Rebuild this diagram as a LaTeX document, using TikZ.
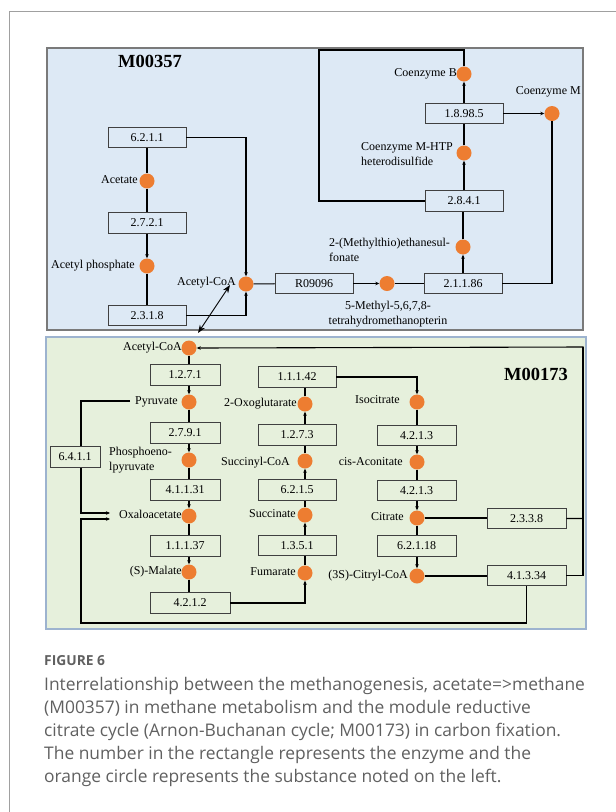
\documentclass[tikz,border=0pt]{standalone}
\usepackage{fontspec}
\setmainfont{Liberation Serif}
\newfontfamily\capfont{Open Sans}
\usetikzlibrary{arrows.meta}
\definecolor{topfill}{HTML}{DDE9F5}
\definecolor{botfill}{HTML}{E6F0DC}
\definecolor{orng}{HTML}{ED7D31}
\definecolor{capgray}{HTML}{606060}
\definecolor{topedge}{HTML}{7A7A7A}
\definecolor{botedge}{HTML}{9DB3CF}
\definecolor{frame}{HTML}{A0A0A0}
\begin{document}
\begin{tikzpicture}[x=1pt,y=-1pt,
  enz/.style={draw=black!75, line width=0.8pt, minimum width=78pt, minimum height=20.5pt, inner sep=0pt, font=\fontsize{12}{14}\selectfont},
  sub/.style={circle, fill=orng, minimum size=15pt, inner sep=0pt},
  lab/.style={font=\fontsize{12}{14.5}\selectfont, inner sep=0pt},
  conn/.style={line width=1.1pt},
  arr/.style={conn, -{Stealth[length=4pt,width=3.5pt]}},
  ttl/.style={font=\bfseries\fontsize{18.5}{20}\selectfont, inner sep=0pt},
  capl/.style={anchor=base west, inner sep=0pt, text=capgray, font=\capfont\fontsize{17.4}{20}\selectfont}
]
\useasboundingbox (0,0) rectangle (616,812);
% outer frame
\draw[frame, line width=1pt] (9,812) -- (9,11) -- (616,11);
% panels
\draw[topedge, fill=topfill, line width=1.2pt] (47,48) rectangle (583,330);
\draw[botedge, fill=botfill, line width=1.2pt] (46,337) rectangle (586,629);

% ---------- top panel ----------
\node[ttl] (t1) at (150,61) {M00357};
\node[enz] (e6211) at (147,137.5) {6.2.1.1};
\node[sub] (acetate) at (147,181) {};
\node[lab,anchor=mid east] (lacetate) at (138,181) {Acetate};
\node[enz] (e2721) at (147,223) {2.7.2.1};
\node[sub] (acp) at (147,266) {};
\node[lab,anchor=mid east] (lacp) at (135,266) {Acetyl phosphate};
\node[enz] (e2318) at (147,315.5) {2.3.1.8};
\node[sub] (acoa1) at (246,284) {};
\node[lab,anchor=mid east] (lacoa1) at (236,283) {Acetyl-CoA};
\node[enz] (r09096) at (314,283.5) {R09096};
\node[sub] (mthm) at (387,283.5) {};
\node[lab,align=center] (lmthm) at (388,314) {5-Methyl-5,6,7,8-\\tetrahydromethanopterin};
\node[enz] (e21186) at (463,283.5) {2.1.1.86};
\node[sub] (mtes) at (463,247) {};
\node[lab,align=left,anchor=west] (lmtes) at (329,250) {2-(Methylthio)ethanesul-\\fonate};
\node[enz] (e2841) at (464,201) {2.8.4.1};
\node[sub] (cmhtp) at (464,153) {};
\node[lab,align=left,anchor=west] (lcmhtp) at (361,154) {Coenzyme M-HTP\\heterodisulfide};
\node[enz] (e18985) at (464,113.5) {1.8.98.5};
\node[sub] (cob) at (464,74) {};
\node[lab,anchor=mid east] (lcob) at (457,74) {Coenzyme B};
\node[sub] (com) at (552,113.5) {};
\node[lab,anchor=mid east] (lcom) at (581,92) {Coenzyme M};

\draw[conn] (e6211) -- (acetate);
\draw[conn] (acetate) -- (e2721);
\draw[arr] (e2721) -- (acp);
\draw[conn] (acp) -- (e2318);
\draw[arr] (e6211.east) -| (acoa1.north);
\draw[arr] (e2318.east) -| (acoa1.south);
\draw[conn] (acoa1) -- (r09096);
\draw[arr] (r09096) -- (mthm);
\draw[conn] (mthm) -- (e21186);
\draw[arr] (e21186.north -| mtes) -- (mtes);
\draw[conn] (mtes) -- (mtes |- e2841.south);
\draw[arr] (e2841.north -| cmhtp) -- (cmhtp);
\draw[conn] (cmhtp) -- (e18985);
\draw[arr] (e18985) -- (cob);
\draw[arr] (e18985) -- (com);
\draw[conn] (com.south) |- (e21186.east);
\coordinate (lt) at (319,50);
\draw[conn] (cob.north) |- (lt) |- (e2841.west);

% double arrow between panels
\coordinate (da1) at (230,285);
\coordinate (da2) at (198,333);
\draw[line width=0.9pt, {Stealth[length=8pt,width=6pt]}-{Stealth[length=8pt,width=6pt]}] (da1) -- (da2);

% ---------- bottom panel ----------
\node[ttl] (t2) at (536,374) {M00173};
% column 1
\node[sub] (acoa2) at (189,348) {};
\node[lab,anchor=mid east] (lacoa2) at (182,348) {Acetyl-CoA};
\node[enz,minimum width=70pt] (e1271) at (185,375) {1.2.7.1};
\node[sub] (pyr) at (189,402) {};
\node[lab,anchor=mid east] (lpyr) at (178,402) {Pyruvate};
\node[enz,minimum width=70pt] (e2791) at (185,433) {2.7.9.1};
\node[sub] (pep) at (189,460) {};
\node[lab,align=left,anchor=west] (lpep) at (109,460) {Phosphoeno-\\lpyruvate};
\node[enz,minimum width=70pt] (e41131) at (185,490) {4.1.1.31};
\node[sub] (oaa) at (189,516) {};
\node[lab,anchor=mid east] (loaa) at (182,516) {Oxaloacetate};
\node[enz,minimum width=70pt] (e11137) at (185,546) {1.1.1.37};
\node[sub] (mal) at (189,572) {};
\node[lab,anchor=mid east] (lmal) at (182,572) {(S)-Malate};
\node[enz,minimum width=80pt] (e4212) at (190,603) {4.2.1.2};
% column 2
\node[enz] (e11142) at (297,377) {1.1.1.42};
\node[sub] (oxg) at (305,404) {};
\node[lab,anchor=mid east] (loxg) at (297,404) {2-Oxoglutarate};
\node[enz] (e1273) at (297,435) {1.2.7.3};
\node[sub] (scoa) at (305,461) {};
\node[lab,anchor=mid east] (lscoa) at (290,463) {Succinyl-CoA};
\node[enz] (e6215) at (297,490) {6.2.1.5};
\node[sub] (succ) at (305,515) {};
\node[lab,anchor=mid east] (lsucc) at (296,515) {Succinate};
\node[enz] (e1351) at (297,545.5) {1.3.5.1};
\node[sub] (fum) at (305,573) {};
\node[lab,anchor=mid east] (lfum) at (296,573) {Fumarate};
% column 3
\node[sub] (iso) at (417,402) {};
\node[lab,anchor=mid east] (liso) at (400,401) {Isocitrate};
\node[enz,minimum width=79pt] (e4213a) at (416.5,435.5) {4.2.1.3};
\node[sub] (cis) at (417,462) {};
\node[lab,anchor=mid east] (lcis) at (403,463) {cis-Aconitate};
\node[enz,minimum width=79pt] (e4213b) at (416.5,490.5) {4.2.1.3};
\node[sub] (cit) at (417,518) {};
\node[lab,anchor=mid east] (lcit) at (404,518) {Citrate};
\node[enz,minimum width=79pt] (e62118) at (416.5,546) {6.2.1.18};
\node[sub] (ccoa) at (417,576) {};
\node[lab,anchor=mid east] (lccoa) at (408,576) {(3S)-Citryl-CoA};
% right boxes
\node[enz,minimum width=79pt] (e2338) at (526.5,518.5) {2.3.3.8};
\node[enz,minimum width=79pt] (e41334) at (526.5,575.5) {4.1.3.34};
\node[enz,minimum width=50pt] (e6411) at (75,457) {6.4.1.1};

% column 1 connectors
\draw[conn] (acoa2.south) -- (acoa2.south |- e1271.north);
\draw[arr] (pyr.north |- e1271.south) -- (pyr.north);
\draw[conn] (pyr.south) -- (pyr.south |- e2791.north);
\draw[arr] (pep.north |- e2791.south) -- (pep.north);
\draw[conn] (pep.south) -- (pep.south |- e41131.north);
\draw[arr] (oaa.north |- e41131.south) -- (oaa.north);
\draw[conn] (oaa.south) -- (oaa.south |- e11137.north);
\draw[arr] (mal.north |- e11137.south) -- (mal.north);
\draw[conn] (mal.south) -- (mal.south |- e4212.north);
\draw[arr] (e4212.east) -| (fum.south);
% column 2 connectors
\draw[conn] (fum.north) -- (fum.north |- e1351.south);
\draw[arr] (succ.south |- e1351.north) -- (succ.south);
\draw[conn] (succ.north) -- (succ.north |- e6215.south);
\draw[arr] (scoa.south |- e6215.north) -- (scoa.south);
\draw[conn] (scoa.north) -- (scoa.north |- e1273.south);
\draw[arr] (oxg.south |- e1273.north) -- (oxg.south);
\draw[conn] (oxg.north) -- (oxg.north |- e11142.south);
\draw[arr] (e11142.east) -| (iso.north);
% column 3 connectors
\draw[conn] (iso.south) -- (iso.south |- e4213a.north);
\draw[arr] (cis.north |- e4213a.south) -- (cis.north);
\draw[conn] (cis.south) -- (cis.south |- e4213b.north);
\draw[arr] (cit.north |- e4213b.south) -- (cit.north);
\draw[conn] (cit.south) -- (cit.south |- e62118.north);
\draw[arr] (ccoa.north |- e62118.south) -- (ccoa.north);
% right side
\draw[conn] (cit) -- (cit -| e2338.west);
\draw[conn] (ccoa) -- (ccoa -| e41334.west);
\coordinate (rc) at (583,347);
\draw[arr] (e2338.east) -| (rc) -- (acoa2.east);
\draw[conn] (e41334.east) -| (rc);
% bottom loop
\coordinate (bl) at (81,623);
\coordinate (oaa2) at (110,519);
\draw[arr] (e41334.south) |- (bl) |- (oaa2);
% pyruvate to oxaloacetate via 6.4.1.1
\coordinate (pyrst) at (130,401);
\coordinate (pl) at (81,401);
\coordinate (oaa1) at (110,513);
\draw[conn] (pyrst) -- (pl) -- (pl |- e6411.north);
\draw[arr] (pl |- e6411.south) |- (oaa1);

% ---------- caption ----------
\node[capl, font=\capfont\bfseries\fontsize{13.8}{15}\selectfont] (fig) at (44,665) {FIGURE 6};
\node[capl] (c1) at (44,690) {Interrelationship between the methanogenesis, acetate=>methane};
\node[capl] (c2) at (44,713) {(M00357) in methane metabolism and the module reductive};
\node[capl] (c3) at (44,736) {citrate cycle (Arnon-Buchanan cycle; M00173) in carbon fixation.};
\node[capl] (c4) at (44,759) {The number in the rectangle represents the enzyme and the};
\node[capl] (c5) at (44,782) {orange circle represents the substance noted on the left.};
\end{tikzpicture}
\end{document}
